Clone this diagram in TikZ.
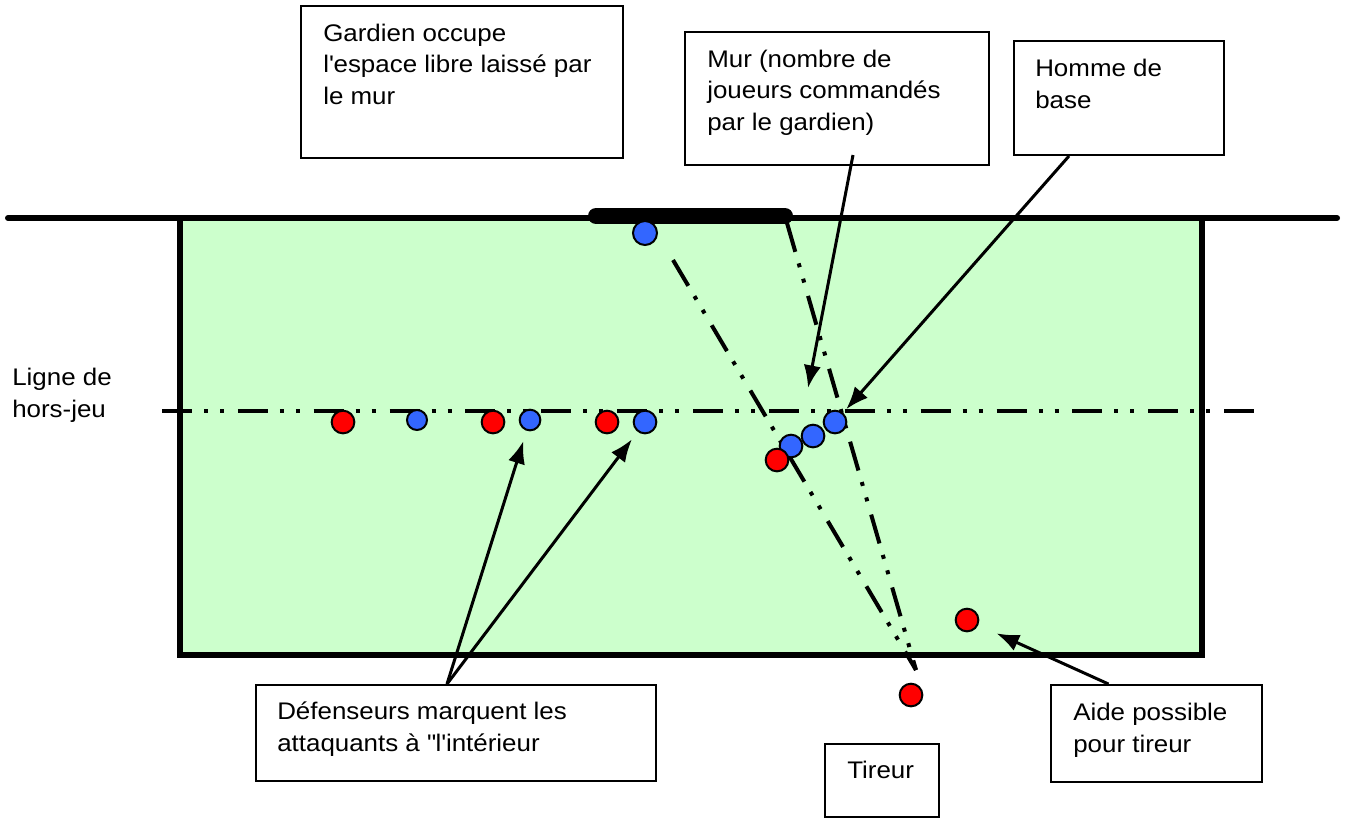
\documentclass[tikz,border=0pt]{standalone}
\usepackage{fontspec}
\setmainfont{Liberation Sans}[FakeStretch=1.08]
\usetikzlibrary{arrows.meta}
\definecolor{terrain}{HTML}{CCFFCC}
\definecolor{rouge}{HTML}{FF0000}
\definecolor{bleu}{HTML}{3366FF}
\begin{document}
\begin{tikzpicture}[x=0.75pt,y=-0.75pt]

    \tikzset{
      joueur/.style={
        circle,
        draw,
        line width=1.5pt,
        inner sep=0pt,
        minimum size=17pt,
      },
      attaquant/.style={joueur, fill=rouge},
      defenseur/.style={joueur, fill=bleu},
      boite/.style={draw, line width=1.5pt, fill=white, anchor=north west, inner sep=0pt},
      texte/.style={anchor=base west, align=left, inner sep=0pt, font=\fontsize{18}{23.5}\selectfont},
      fleche/.style={line width=2.25pt, -{Latex[length=17pt,width=13pt]}},
      horsjeu/.style={line width=3pt, dash pattern=on 22.5pt off 9pt on 3pt off 9pt on 3pt off 10.4pt},
    }
    \useasboundingbox (0,0) rectangle (1348,819);

	\draw[line width=4.5pt, fill=terrain] (180,218) rectangle (1202,655);
	\draw[line width=4.5pt, line cap=round] (8,218) -- (1337,218);
	\draw[line width=12pt, line cap=round] (596,216) -- (785,216);

	\draw[horsjeu] (162,411) -- (1256,411);
	% base = derniere ligne
	\node[texte] (ligne) at (12,417) {Ligne de\\hors-jeu};

	\coordinate (poteau) at (787,223);
	\coordinate (departA) at (673,260);
	\coordinate (visee) at (916,670);
	\coordinate (murvise) at (808,388);
	\draw[horsjeu] (departA) -- (visee);
	\draw[horsjeu] (poteau) -- (visee);

	\node[defenseur, minimum size=18pt] (gb) at (645,233) {};
	\node[attaquant] (a1) at (343,422) {};
	\node[defenseur, minimum size=15pt] (b1) at (417,420) {};
	\node[attaquant] (a2) at (493,422) {};
	\node[defenseur, minimum size=15.5pt] (b2) at (530,420) {};
	\node[attaquant] (a3) at (607,422) {};
	\node[defenseur] (b3) at (645,422) {};
	\node[defenseur] (b4) at (791,446) {};
	\node[defenseur] (b5) at (813,436) {};
	\node[defenseur] (b6) at (835,422) {};
	\node[attaquant] (a4) at (777,460) {};
	\node[attaquant] (a5) at (967,620) {};
	\node[attaquant] (a6) at (911,695) {};

	\node[boite, minimum width=241.5pt, minimum height=114pt] (gardien) at (300,5) {};
	\node[texte] (gardientxt) at ([shift={(23,99)}]gardien.north west) {Gardien occupe\\l\textquotesingle espace libre laissé par\\le mur};
	\node[boite, minimum width=228pt, minimum height=99.75pt] (mur) at (684,31) {};
	\node[texte] (murtxt) at ([shift={(23,99)}]mur.north west) {Mur (nombre de\\joueurs commandés\\par le gardien)};
	\node[boite, minimum width=157.5pt, minimum height=85.5pt] (homme) at (1013,40) {};
	\node[texte] (hommetxt) at ([shift={(22,68)}]homme.north west) {Homme de\\base};
	\node[boite, minimum width=300pt, minimum height=72pt] (defenseurs) at (255,684) {};
	\node[texte] (defenseurstxt) at ([shift={(22,67)}]defenseurs.north west) {Défenseurs marquent les\\attaquants à \textquotedbl l\textquotesingle intérieur};
	\node[boite, minimum width=85.5pt, minimum height=55pt] (tireur) at (824,743) {};
	\node[texte] (tireurtxt) at ([shift={(23,35)}]tireur.north west) {Tireur};
	\node[boite, minimum width=158.25pt, minimum height=72.75pt] (aide) at (1050,684) {};
	\node[texte] (aidetxt) at ([shift={(23,68)}]aide.north west) {Aide possible\\pour tireur};

	\draw[fleche] ([shift={(16,-11)}]mur.south) -- (murvise);
	\draw[fleche, shorten >=3.5pt] ([shift={(-50,0)}]homme.south) -- (b6);
	\draw[fleche, shorten >=8pt] ([shift={(-9,0)}]defenseurs.north) -- (b2);
	\draw[fleche, shorten >=7pt] ([shift={(-9,0)}]defenseurs.north) -- (b3);
	\draw[fleche, shorten >=15pt] ([shift={(-48,0)}]aide.north) -- (a5);

\end{tikzpicture}
\end{document}
